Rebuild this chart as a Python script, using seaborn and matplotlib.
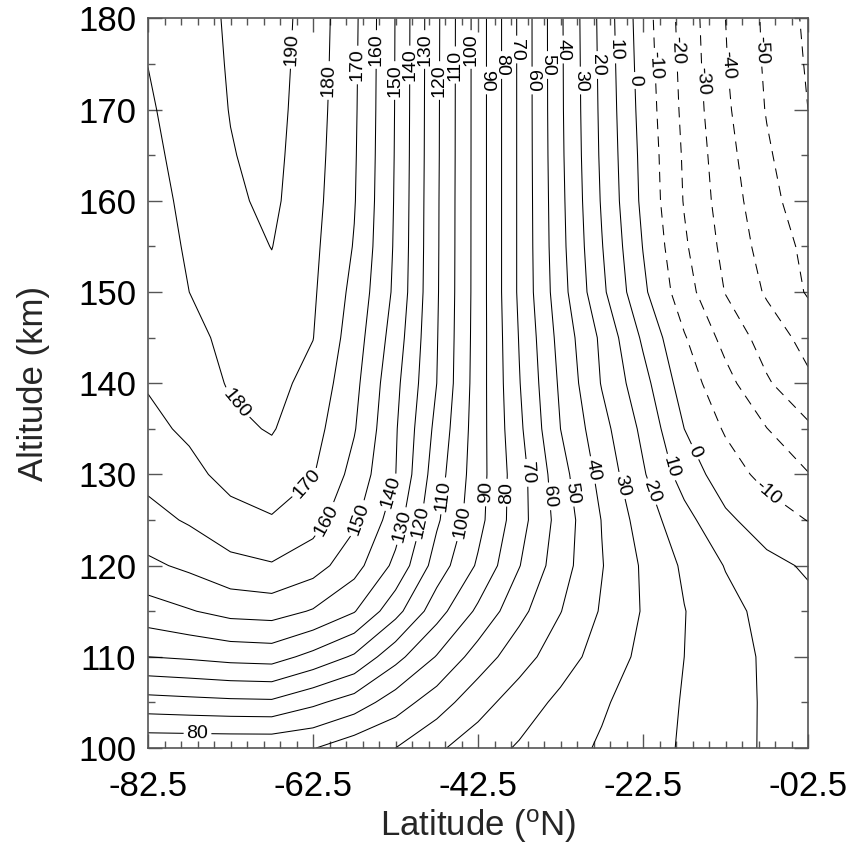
import numpy as np
import pandas as pd
import matplotlib
matplotlib.use("Agg")
import matplotlib.pyplot as plt
import seaborn as sns
from matplotlib.ticker import FixedLocator, FixedFormatter, MultipleLocator

# ---------------- data ----------------
latitudes = [-82.5, -77.5, -72.5, -67.5, -62.5, -57.5, -52.5, -47.5, -42.5,
             -37.5, -32.5, -27.5, -22.5, -17.5, -12.5, -7.5, -2.5]
altitudes = [100, 105, 110, 115, 120, 125, 130, 135, 140, 145, 150, 155, 160,
             165, 170, 175, 180]

# one column of values per latitude, bottom (100 km) to top (180 km)
col_82_5 = [72, 96, 120, 135.6, 148.0, 156.7, 162.9, 167.7, 170.7, 172.0, 173.4, 174.7, 176.1, 177.4, 178.7, 180.1, 181.4]
col_77_5 = [72, 97, 121.4, 139.3, 152.0, 161.1, 167.4, 171.6, 174.4, 177.2, 180.0, 181.3, 182.4, 183.7, 184.9, 185.4, 186.0]
col_72_5 = [72, 97.9, 123.3, 143.2, 157.1, 166.7, 173.0, 177.9, 181.0, 182.6, 184.3, 186.0, 188.3, 189.5, 190.3, 190.8, 191.2]
col_67_5 = [72, 98.3, 124.1, 144.1, 159.2, 169.2, 175.7, 180.7, 183.0, 185.2, 187.5, 190.2, 192.0, 192.8, 193.5, 194.0, 194.5]
col_62_5 = [70.5, 92, 117, 139.2, 154.2, 164.0, 170.6, 173.8, 177.0, 180.2, 181.3, 182.2, 183.2, 184.0, 184.7, 185.3, 185.7]
col_57_5 = [64, 85.5, 108.6, 130.6, 143.9, 151.9, 156.7, 160.7, 162.8, 165.0, 167.2, 169.4, 170.6, 171.1, 171.5, 171.8, 172.1]
col_52_5 = [60, 74.8, 93.3, 113.5, 127.5, 134.6, 140.2, 141.0, 142.6, 145.3, 147.9, 148.6, 149.0, 149.3, 149.5, 149.6, 149.7]
col_47_5 = [51.6, 64.8, 79.4, 94.1, 105.5, 111.5, 114.4, 117.2, 120.0, 120.6, 121.1, 121.3, 121.4, 121.6, 121.7, 121.8, 121.9]
col_42_5 = [44.9, 53.8, 65.5, 78.0, 88.6, 93.3, 94.4, 94.8, 95.1, 95.4, 95.6, 95.6, 95.6, 95.6, 95.6, 95.6, 95.6]
col_37_5 = [38.9, 45.2, 54.1, 62.9, 70.4, 74.0, 74.1, 72.0, 70.5, 69.5, 68.3, 68.3, 68.3, 68.3, 68.3, 68.3, 68.3]
col_32_5 = [33.8, 37.7, 44.6, 50.3, 54.3, 56.0, 53.8, 50.0, 48.3, 46.5, 44.0, 43.0, 42.5, 42.0, 41.7, 41.6, 41.5]
col_27_5 = [28.8, 31.3, 35.8, 39.0, 40.5, 39.7, 36.7, 33.5, 29.4, 28.0, 22.2, 20.5, 19.1, 18.3, 17.8, 17.4, 17.0]
col_22_5 = [23.9, 25.2, 27.6, 29.3, 28.7, 25.5, 21.1, 17.8, 13.5, 8.4, 2.0, -0.3, -2.2, -2.8, -3.75, -4.6, -5.4]
col_17_5 = [18.9, 19.3, 20.0, 20.3, 18.4, 13.4, 5.7, 0.0, -4.8, -9.2, -15.7, -18.6, -20.6, -21.3, -22.4, -23.2, -23.9]
col_12_5 = [13.8, 14.0, 14.2, 13.2, 9.5, 1.9, -5.2, -11.1, -16.7, -23.2, -30.4, -32.9, -34.9, -36.5, -38.2, -39.4, -40.0]
col_07_5 = [8.8, 8.8, 8.5, 7.0, 2.6, -4.8, -13.2, -19.8, -28.8, -34.5, -41.2, -44.1, -46.5, -48.6, -50.6, -51.5, -52.0]
col_02_5 = [4.0, 4.0, 3.5, 2.5, -1.2, -10.3, -19.5, -28.2, -38.0, -43.5, -51.0, -52.5, -56.0, -58.0, -60.0, -61.0, -62.0]

contour_levels = list(range(-60, 200, 10))
top_label_levels = list(range(-50, 200, 10))
mid_label_levels = list(range(-10, 190, 10))

x_tick_values = [-82.5, -62.5, -42.5, -22.5, -2.5]
x_tick_labels = ["-82.5", "-62.5", "-42.5", "-22.5", "-02.5"]
y_tick_values = [100, 110, 120, 130, 140, 150, 160, 170, 180]

# ---------------- style ----------------
sns.set_style("ticks")
plt.rcParams["font.family"] = ["Liberation Sans", "DejaVu Sans"]
plt.rcParams["mathtext.fontset"] = "custom"
plt.rcParams["mathtext.rm"] = "Liberation Sans"
plt.rcParams["mathtext.it"] = "Liberation Sans:italic"

W, H = 856, 846
fig = plt.figure(figsize=(W / 100, H / 100), dpi=100)
ax = fig.add_axes([148 / W, 1 - 748 / H, 660 / W, (748 - 18.5) / H])

columns = [col_82_5, col_77_5, col_72_5, col_67_5, col_62_5, col_57_5, col_52_5,
           col_47_5, col_42_5, col_37_5, col_32_5, col_27_5, col_22_5, col_17_5,
           col_12_5, col_07_5, col_02_5]
field = pd.DataFrame(np.column_stack(columns), index=altitudes, columns=latitudes)
LAT, ALT = np.meshgrid(field.columns.values.astype(float), field.index.values.astype(float))

cs = ax.contour(LAT, ALT, field.values, levels=contour_levels, colors="black",
                linewidths=0.75, negative_linestyles=(0, (10, 7)))

level_list = list(cs.levels)
SX, SY = 8.25, 9.125  # pixels per degree / per km, for distances


def level_lines(level):
    path = cs.get_paths()[level_list.index(level)]
    return [p for p in path.to_polygons(closed_only=False) if len(p) > 1]


def anchor(level, lat_t, alt_t, lat_min=-90.0):
    """Point on this level's own line nearest to a wanted label place."""
    best = None
    for poly in level_lines(level):
        a = poly[:-1] * [SX, SY]
        b = poly[1:] * [SX, SY]
        q = np.array([lat_t * SX, alt_t * SY])
        ab = b - a
        L2 = np.maximum((ab ** 2).sum(axis=1), 1e-12)
        t = np.clip(((q - a) * ab).sum(axis=1) / L2, 0, 1)
        proj = a + ab * t[:, None]
        ok = proj[:, 0] / SX >= lat_min
        if not ok.any():
            continue
        d = ((proj - q) ** 2).sum(axis=1)
        d[~ok] = np.inf
        j = int(np.argmin(d))
        if best is None or d[j] < best[0]:
            best = (d[j], proj[j, 0] / SX, proj[j, 1] / SY)
    if best is None:
        return None
    return (float(best[1]), float(best[2]))


positions = []

# labels near the top, staggered in a cycle of three heights
stagger = [176.6, 174.9, 173.2]
for k, lev in enumerate(top_label_levels):
    alt_t = stagger[k % 3]
    pts = [p for p in level_lines(lev)]
    cand = []
    for poly in pts:
        near = poly[(poly[:, 1] > 168) & (poly[:, 0] > -67)]
        if len(near):
            cand.append(near)
    if not cand:
        continue
    near = np.vstack(cand)
    lat_t = float(near[np.argmin(np.abs(near[:, 1] - alt_t)), 0])
    p = anchor(lev, lat_t, alt_t, lat_min=-67)
    if p:
        positions.append(p)

# labels across the middle band (wanted place: latitude, altitude)
mid_places = {180: (-72.6, 137.1), 170: (-62.9, 128.6), 160: (-60.4, 124.7),
              150: (-56.4, 125.0), 140: (-52.9, 128.0), 130: (-51.6, 124.3),
              120: (-49.3, 124.7), 110: (-46.3, 127.6), 100: (-44.3, 124.7),
              90: (-41.0, 128.0), 80: (-39.2, 128.0), 70: (-36.2, 130.2),
              60: (-33.8, 127.6), 50: (-31.0, 128.0), 40: (-28.5, 130.5),
              30: (-25.5, 128.7), 20: (-21.8, 128.0), 10: (-19.5, 130.7),
              0: (-16.4, 132.4), -10: (-7.5, 127.8)}
for lev in mid_label_levels:
    p = anchor(lev, *mid_places[lev])
    if p:
        positions.append(p)

p80 = anchor(80, -76.5, 101.6)
if p80:
    positions.append(p80)

ax.clabel(cs, levels=contour_levels, manual=positions, inline=True,
          inline_spacing=3, fontsize=14, fmt="%d")

# ---------------- axes ----------------
ax.set_xlim(x_tick_values[0], x_tick_values[-1])
ax.set_ylim(y_tick_values[0], y_tick_values[-1])
ax.xaxis.set_major_locator(FixedLocator(x_tick_values))
ax.xaxis.set_major_formatter(FixedFormatter(x_tick_labels))
ax.xaxis.set_minor_locator(FixedLocator(np.arange(x_tick_values[0], x_tick_values[-1] + 0.01, 2.0)))
ax.yaxis.set_major_locator(FixedLocator(y_tick_values))
ax.yaxis.set_minor_locator(MultipleLocator(5))

ax.tick_params(which="both", direction="in", top=True, right=True,
               color="#555555", width=1.0, labelsize=25, labelcolor="black")
ax.tick_params(which="major", length=10)
ax.tick_params(which="minor", length=5)
ax.tick_params(axis="x", which="major", pad=16)
ax.tick_params(axis="y", which="major", pad=8.5)
for s in ax.spines.values():
    s.set_color("#555555")
    s.set_linewidth(1.2)

ax.set_xlabel("Latitude ($^{\\mathrm{o}}$N)", fontsize=25, labelpad=3)
ax.set_ylabel("Altitude (km)", fontsize=25, labelpad=20)

fig.savefig("out.png", dpi=100, facecolor="white")
